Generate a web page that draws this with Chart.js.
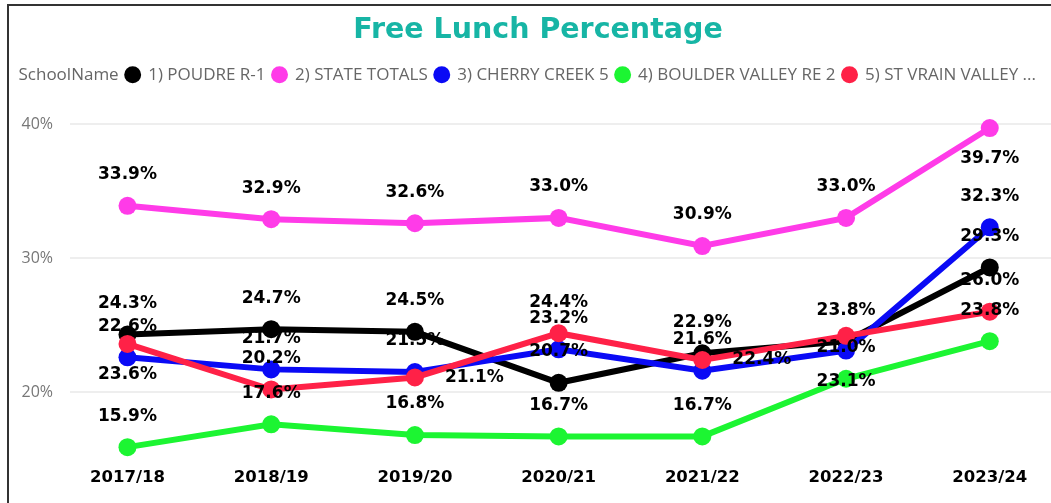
<!DOCTYPE html>
<html>
<head>
<meta charset="utf-8">
<title>Free Lunch Percentage</title>
<script src="https://cdn.jsdelivr.net/npm/chart.js@4.4.0/dist/chart.umd.min.js"></script>
<style>
  html, body { margin: 0; padding: 0; background: #fff; overflow: hidden; }
  body { width: 1051px; height: 503px; position: relative; }
  #wrap { position: absolute; left: -11px; top: 0; width: 1098px; height: 503px; }
  #frame { position: absolute; left: 7px; top: 4px; right: 0; bottom: 0;
           border-left: 2px solid #333; border-top: 2px solid #333; pointer-events: none; }
</style>
</head>
<body>
<div id="wrap"><canvas id="lunchChart"></canvas></div>
<div id="frame"></div>
<script>
// Data
const years = ["2017/18", "2018/19", "2019/20", "2020/21", "2021/22", "2022/23", "2023/24"];
const schoolNames = ["1) POUDRE R-1", "2) STATE TOTALS", "3) CHERRY CREEK 5", "4) BOULDER VALLEY RE 2", "5) ST VRAIN VALLEY ..."];
const poudre = [24.3, 24.7, 24.5, 20.7, 22.9, 23.8, 29.3];
const stateTotals = [33.9, 32.9, 32.6, 33.0, 30.9, 33.0, 39.7];
const cherryCreek = [22.6, 21.7, 21.5, 23.2, 21.6, 23.1, 32.3];
const boulderValley = [15.9, 17.6, 16.8, 16.7, 16.7, 21.0, 23.8];
const stVrain = [23.6, 20.2, 21.1, 24.4, 22.4, 24.2, 26.0];
const yTicks = [20, 30, 40];

const seriesValues = [poudre, stateTotals, cherryCreek, boulderValley, stVrain];
const seriesColors = ["#000000", "#ff3be8", "#0a0af5", "#1cf532", "#ff2147"];

// Draw "33.9%" style labels, trying above / below / right / left until one fits
const pointLabels = {
    id: "pointLabels",
    afterDatasetsDraw(chart) {
        const { ctx, chartArea } = chart;
        ctx.save();
        ctx.font = "bold 17px 'DejaVu Sans'";
        ctx.fillStyle = "#000";
        ctx.textAlign = "center";
        ctx.textBaseline = "middle";
        const placed = [];
        const h = 15;
        chart.data.datasets.forEach((ds, di) => {
            const meta = chart.getDatasetMeta(di);
            meta.data.forEach((pt, i) => {
                const text = ds.data[i].y.toFixed(1) + "%";
                const w = ctx.measureText(text).width;
                const spots = [
                    { x: pt.x, y: pt.y - 31 },
                    { x: pt.x, y: pt.y + 31 },
                    { x: pt.x + 30 + w / 2, y: pt.y },
                    { x: pt.x - 30 - w / 2, y: pt.y },
                ];
                for (const s of spots) {
                    const r = { l: s.x - w / 2, r: s.x + w / 2, t: s.y - h / 2, b: s.y + h / 2 };
                    if (r.t < chartArea.top || r.b > chartArea.bottom) continue;
                    const hit = placed.some((p) => r.l < p.r + 1 && r.r > p.l - 1 && r.t < p.b + 1 && r.b > p.t - 1);
                    if (hit) continue;
                    placed.push(r);
                    ctx.fillText(text, s.x, s.y);
                    break;
                }
            });
        });
        ctx.restore();
    },
};

const ctx = document.getElementById("lunchChart").getContext("2d");
new Chart(ctx, {
    type: "line",
    data: {
        datasets: schoolNames.map((name, si) => ({
            label: name,
            data: seriesValues[si].map((v, i) => ({ x: i, y: v })),
            borderColor: seriesColors[si],
            backgroundColor: seriesColors[si],
            pointBackgroundColor: seriesColors[si],
            borderWidth: 6,
            pointRadius: 9,
            pointHoverRadius: 9,
            pointBorderWidth: 0,
            tension: 0,
            order: schoolNames.length - si,
        })),
    },
    options: {
        responsive: true,
        maintainAspectRatio: false,
        animation: false,
        layout: { padding: { left: 0, right: 0, top: 0, bottom: 6 } },
        scales: {
            x: {
                type: "linear",
                min: -0.4,
                max: 6.614,
                afterBuildTicks: (scale) => {
                    scale.ticks = years.map((_, i) => ({ value: i }));
                },
                ticks: {
                    callback: (v) => years[v] ?? "",
                    color: "#000",
                    font: { family: "'DejaVu Sans'", size: 16.5, weight: "bold" },
                    padding: 9,
                    maxRotation: 0,
                    autoSkip: false,
                },
                grid: { display: false, drawTicks: false },
                border: { display: false },
            },
            y: {
                min: 15,
                max: 42.3,
                afterBuildTicks: (scale) => {
                    scale.ticks = yTicks.map((v) => ({ value: v }));
                },
                afterFit: (scale) => {
                    scale.width = 81;
                },
                ticks: {
                    callback: (v) => v + "%",
                    color: "#777",
                    font: { family: "'Open Sans'", size: 16 },
                    padding: 17,
                },
                grid: { color: "#eeeeee", lineWidth: 2, drawTicks: false },
                border: { display: false },
            },
        },
        plugins: {
            title: {
                display: true,
                text: "Free Lunch Percentage",
                color: "#17b5a5",
                font: { family: "'DejaVu Sans'", size: 28.5, weight: "bold" },
                padding: { top: 13, bottom: 12 },
            },
            legend: {
                display: true,
                align: "start",
                onClick: () => {},
                labels: {
                    usePointStyle: true,
                    boxWidth: 14,
                    boxHeight: 12,
                    padding: 7,
                    color: "#666",
                    font: { family: "'Open Sans'", size: 17 },
                    generateLabels: (chart) => {
                        const items = chart.data.datasets.map((ds, i) => ({
                            text: ds.label,
                            fillStyle: ds.borderColor,
                            strokeStyle: ds.borderColor,
                            lineWidth: 0,
                            pointStyle: "circle",
                            hidden: !chart.isDatasetVisible(i),
                            datasetIndex: i,
                            fontColor: "#666",
                        }));
                        items.unshift({
                            text: "SchoolName",
                            fillStyle: "rgba(0,0,0,0)",
                            strokeStyle: "rgba(0,0,0,0)",
                            lineWidth: 0,
                            pointStyle: "circle",
                            hidden: false,
                            fontColor: "#666",
                        });
                        return items;
                    },
                },
            },
            tooltip: { enabled: false },
        },
    },
    plugins: [pointLabels],
});
</script>
</body>
</html>
